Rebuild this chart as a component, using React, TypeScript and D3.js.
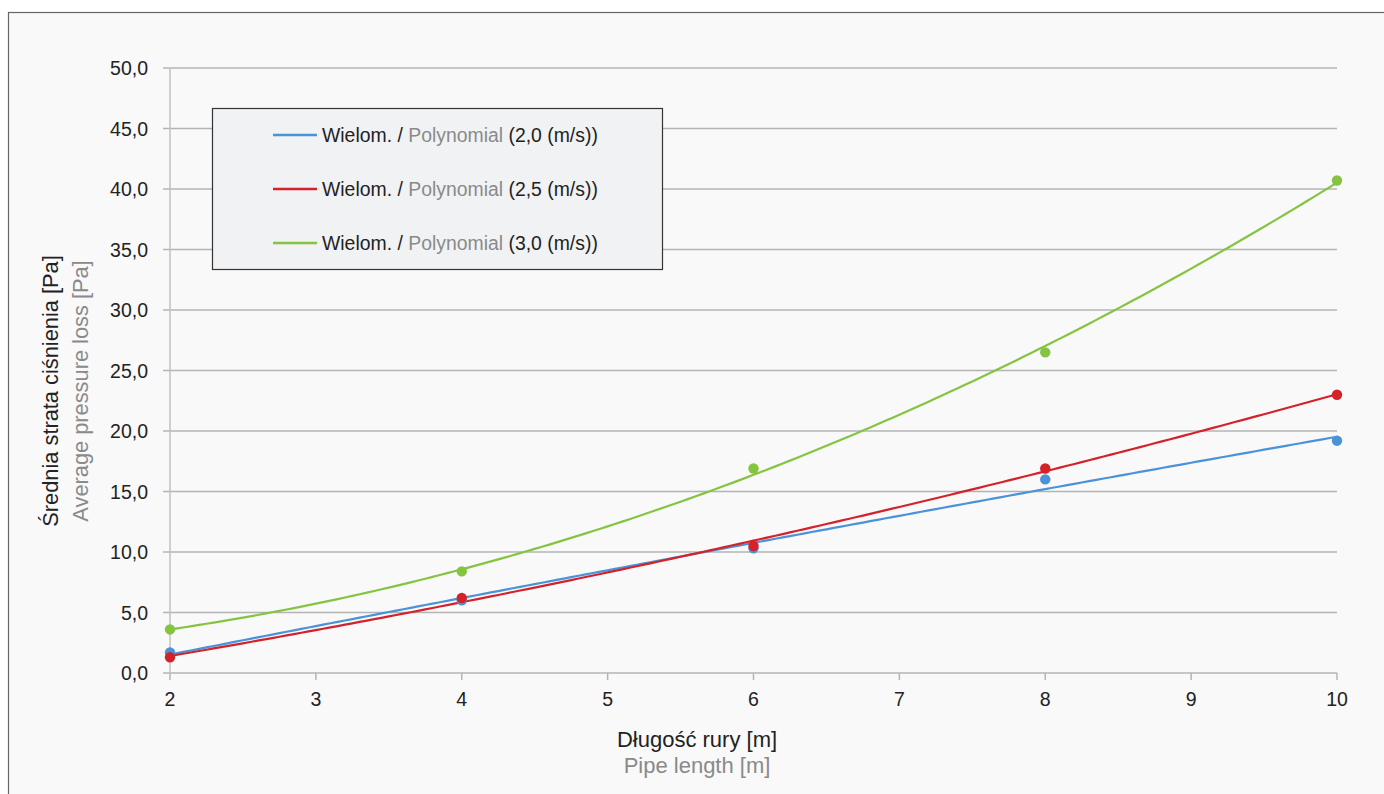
import React from "react";
import * as d3 from "d3";

const lengths = [2, 4, 6, 8, 10];
const legendLabels = ["(2,0 (m/s))", "(2,5 (m/s))", "(3,0 (m/s))"];
const speed20 = [1.7, 6.0, 10.3, 16.0, 19.2];
const speed25 = [1.3, 6.2, 10.5, 16.9, 23.0];
const speed30 = [3.6, 8.4, 16.9, 26.5, 40.7];
const colors = ["#4a93d8", "#d3222a", "#85c441"];
const yTicks = [0, 5, 10, 15, 20, 25, 30, 35, 40, 45, 50];
const xTicks = [2, 3, 4, 5, 6, 7, 8, 9, 10];

function quadFit(xs: number[], ys: number[]) {
  const n = xs.length;
  const s = [0, 0, 0, 0, 0];
  const t = [0, 0, 0];
  for (let i = 0; i < n; i++) {
    for (let k = 0; k < 5; k++) s[k] += Math.pow(xs[i], k);
    for (let k = 0; k < 3; k++) t[k] += ys[i] * Math.pow(xs[i], k);
  }
  const M = [
    [s[0], s[1], s[2], t[0]],
    [s[1], s[2], s[3], t[1]],
    [s[2], s[3], s[4], t[2]],
  ];
  for (let i = 0; i < 3; i++) {
    let p = i;
    for (let r = i + 1; r < 3; r++) if (Math.abs(M[r][i]) > Math.abs(M[p][i])) p = r;
    [M[i], M[p]] = [M[p], M[i]];
    for (let r = 0; r < 3; r++) {
      if (r === i) continue;
      const f = M[r][i] / M[i][i];
      for (let c = i; c < 4; c++) M[r][c] -= f * M[i][c];
    }
  }
  const a = M[0][3] / M[0][0], b = M[1][3] / M[1][1], c = M[2][3] / M[2][2];
  return (v: number) => a + b * v + c * v * v;
}

export default function App() {
  const W = 1384, H = 794;
  const x = d3.scaleLinear().domain([2, 10]).range([170, 1337]);
  const y = d3.scaleLinear().domain([0, 50]).range([673, 68]);
  const series = [speed20, speed25, speed30];
  const font = "'Liberation Sans', Arial, Helvetica, sans-serif";
  const fmt = (v: number) => v.toFixed(1).replace(".", ",");
  const samples = d3.range(0, 161).map((i) => 2 + (8 * i) / 160);

  return (
    <svg width={W} height={H} style={{ position: "absolute", left: 0, top: 0 }} fontFamily={font}>
      <rect x={8.5} y={12.5} width={W + 20} height={H + 20} fill="#f9f9f9" stroke="#666" strokeWidth={1.2} />
      {yTicks.map((t) => (
        <line key={t} x1={163} x2={1337} y1={y(t)} y2={y(t)} stroke="#b4b4b4" strokeWidth={1.5} />
      ))}
      <line x1={170} x2={170} y1={y(50)} y2={y(0)} stroke="#c0c0c0" strokeWidth={1.5} />
      {xTicks.map((t) => (
        <line key={t} x1={x(t)} x2={x(t)} y1={y(0)} y2={y(0) + 7} stroke="#b4b4b4" strokeWidth={1.5} />
      ))}
      {yTicks.map((t) => (
        <text key={t} x={148} y={y(t) + 7} textAnchor="end" fontSize={19.5} fill="#222">
          {fmt(t)}
        </text>
      ))}
      {xTicks.map((t) => (
        <text key={t} x={x(t)} y={y(0) + 33} textAnchor="middle" fontSize={19.5} fill="#222">
          {t}
        </text>
      ))}
      {series.map((s, i) => {
        const f = quadFit(lengths, s);
        const path = d3
          .line<number>()
          .x((d) => x(d))
          .y((d) => y(f(d)))(samples);
        return <path key={i} d={path || ""} fill="none" stroke={colors[i]} strokeWidth={2.2} />;
      })}
      {series.map((s, i) =>
        s.map((v, j) => <circle key={i + "-" + j} cx={x(lengths[j])} cy={y(v)} r={5.2} fill={colors[i]} />)
      )}
      <rect x={212.5} y={108.5} width={450} height={161} fill="#f1f2f4" stroke="#333" strokeWidth={1.2} />
      {legendLabels.map((l, i) => {
        const ly = 135 + i * 54;
        return (
          <g key={i}>
            <line x1={273} x2={317} y1={ly} y2={ly} stroke={colors[i]} strokeWidth={2.5} />
            <text x={322} y={ly + 7} fontSize={19.4} fill="#222">
              <tspan>Wielom. / </tspan>
              <tspan fill="#8a8a8a">Polynomial</tspan>
              <tspan> {l}</tspan>
            </text>
          </g>
        );
      })}
      <text x={697} y={747} textAnchor="middle" fontSize={22} fill="#222">Długość rury [m]</text>
      <text x={697} y={773} textAnchor="middle" fontSize={22} fill="#8a8a8a">Pipe length [m]</text>
      <text transform="translate(58,391) rotate(-90)" textAnchor="middle" fontSize={21.8} fill="#222">
        Średnia strata ciśnienia [Pa]
      </text>
      <text transform="translate(88,391) rotate(-90)" textAnchor="middle" fontSize={21.8} fill="#8a8a8a">
        Average pressure loss [Pa]
      </text>
    </svg>
  );
}
